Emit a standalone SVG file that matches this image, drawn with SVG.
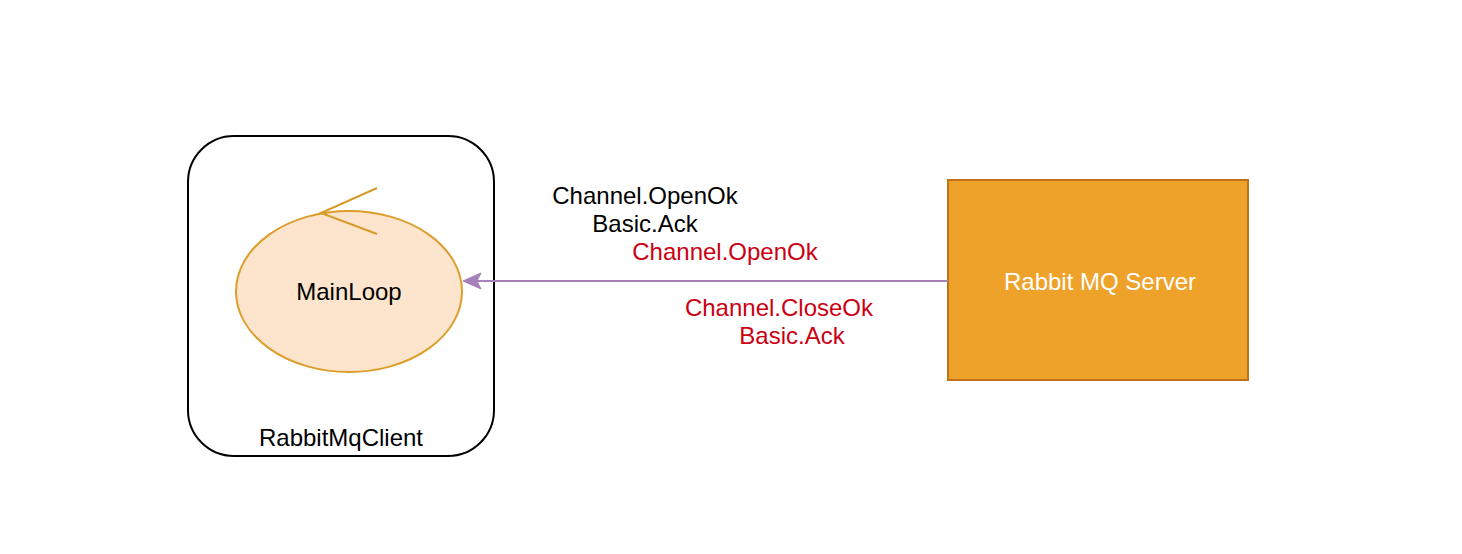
<svg xmlns="http://www.w3.org/2000/svg" width="1462" height="554" viewBox="0 0 1462 554">
<style>
text{font-family:"Liberation Sans",Arial,sans-serif;font-size:24px;text-anchor:middle}
.k{fill:#000}.r{fill:#cc0012}.w{fill:#fff}
</style>
<defs>
<marker id="arr" markerUnits="userSpaceOnUse" markerWidth="20" markerHeight="20" refX="14" refY="9" orient="auto" viewBox="0 0 20 18">
<path d="M19 9L1 1L5 9L1 17Z" fill="#a680b8" stroke="#a680b8" stroke-width="1"/>
</marker>
</defs>
<rect width="1462" height="554" fill="#fff"/>
<g id="client">
<rect x="188" y="136" width="306" height="320" rx="46" ry="46" fill="#fff" stroke="#000" stroke-width="2"/>
<text x="341" y="446" class="k">RabbitMqClient</text>
</g>
<g id="mainloop">
<ellipse cx="349" cy="291.500" rx="113" ry="80.500" stroke-width="2" style="fill:#fde5cd;stroke:#dc9d2a"/>
<path d="M377 188L321 213L377 234" fill="none" stroke="#d79b2a" stroke-width="2"/>
<text x="349" y="300" class="k">MainLoop</text>
</g>
<g id="server">
<rect x="948" y="180" width="300" height="200" fill="#efa22a" stroke="#bf7318" stroke-width="2"/>
<text x="1100" y="290" class="w">Rabbit MQ Server</text>
</g>
<g id="connectors">
<line x1="948" y1="281" x2="468" y2="281" stroke="#a680b8" stroke-width="2" marker-end="url(#arr)"/>
</g>
<g id="labels">
<text x="645" y="204" class="k">Channel.OpenOk</text>
<text x="645" y="232" class="k">Basic.Ack</text>
<text x="725" y="260" class="r">Channel.OpenOk</text>
<text x="779" y="316" class="r">Channel.CloseOk</text>
<text x="792" y="344" class="r">Basic.Ack</text>
</g>
</svg>
